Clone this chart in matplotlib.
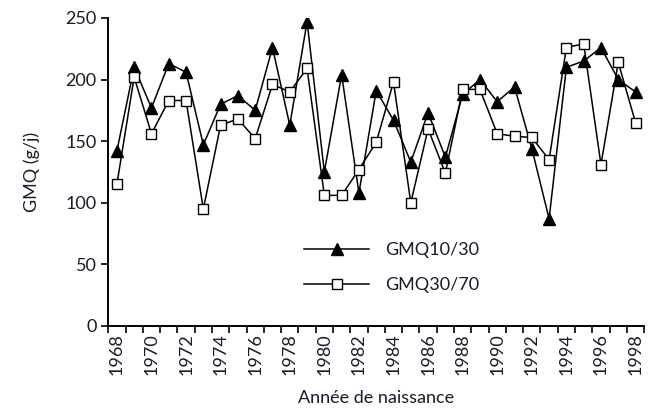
import matplotlib

matplotlib.use("Agg")
import matplotlib.pyplot as plt
from matplotlib.ticker import MultipleLocator

plt.rcParams["font.family"] = ["Lato", "DejaVu Sans"]

years = list(range(1968, 1999))
gmq_10_30 = [142, 210, 177, 213, 206, 147, 180, 187, 175, 226, 163, 247, 125, 204, 108, 191,
             167, 133, 173, 137, 188, 200, 182, 194, 144, 87, 210, 215, 226, 200, 190]
gmq_30_70 = [115, 202, 156, 183, 183, 95, 163, 168, 152, 196, 190, 209, 106, 106, 127, 149,
             198, 100, 160, 124, 192, 192, 156, 154, 153, 135, 226, 229, 131, 214, 165]
year_labels = list(range(1968, 1999, 2))

text_color = "#1a1a2a"

fig = plt.figure(figsize=(6.56, 4.08), dpi=100)
ax = fig.add_axes([0.165, 0.201, 0.817, 0.755])

ax.plot(years, gmq_10_30, color="black", lw=1.1, marker="^", markersize=8,
        markerfacecolor="black", markeredgecolor="black", label="GMQ10/30")
ax.plot(years, gmq_30_70, color="black", lw=1.1, marker="s", markersize=7.5,
        markerfacecolor="white", markeredgecolor="black", markeredgewidth=1, label="GMQ30/70")

ax.set_xlim(years[0] - 0.5, years[-1] + 0.5)
ax.set_ylim(0, 250)
ax.yaxis.set_major_locator(MultipleLocator(50))

ax.set_xticks(year_labels)
ax.set_xticklabels([str(y) for y in year_labels], rotation=90, fontsize=13, color=text_color)
ax.set_xticks([y + 0.5 for y in range(years[0] - 1, years[-1] + 1)], minor=True)
ax.tick_params(axis="x", which="major", length=0, pad=5)
ax.tick_params(axis="x", which="minor", length=5, width=1.2, direction="out")
ax.tick_params(axis="y", length=5, width=1.2, direction="out", labelsize=13, labelcolor=text_color)

for side in ("top", "right"):
    ax.spines[side].set_visible(False)
for side in ("left", "bottom"):
    ax.spines[side].set_linewidth(1.4)

ax.set_xlabel("Année de naissance", fontsize=13, color=text_color, labelpad=11)
ax.set_ylabel("GMQ (g/j)", fontsize=13, color=text_color, labelpad=18)

ax.legend(loc="center left", bbox_to_anchor=(0.335, 0.19), frameon=False, fontsize=13,
          handlelength=3.6, labelspacing=1.05, labelcolor=text_color, handletextpad=0.9)

fig.savefig("out.png", dpi=100)
